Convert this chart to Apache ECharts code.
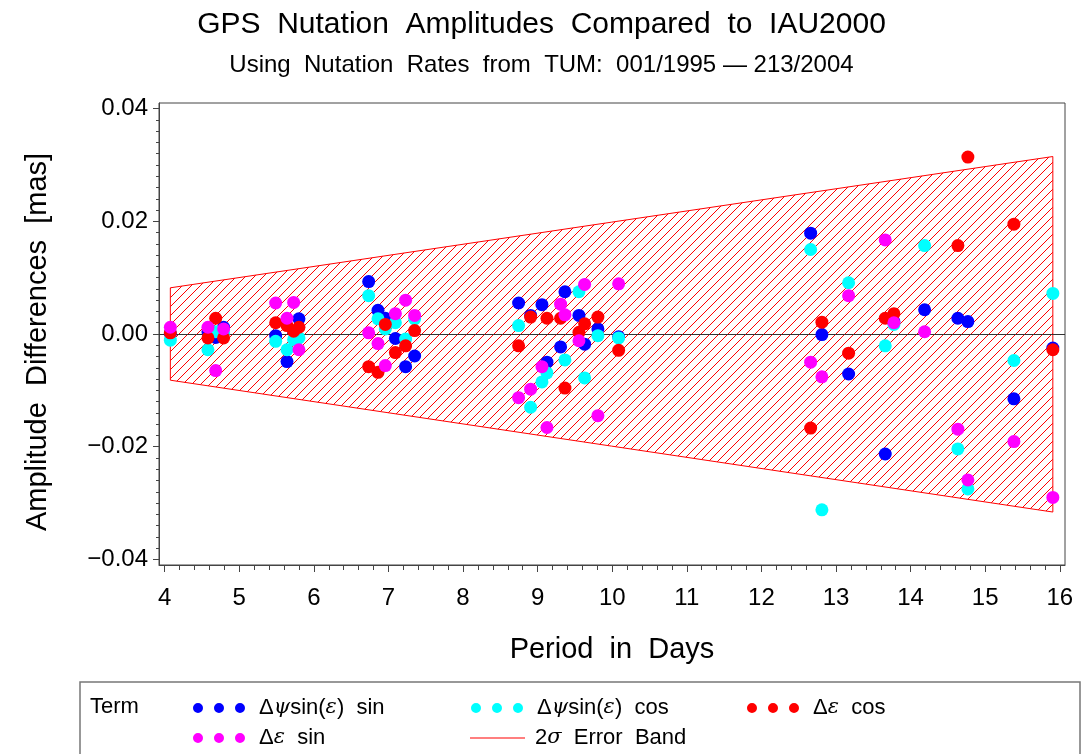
<!DOCTYPE html>
<html>
<head>
<meta charset="utf-8">
<script src="https://cdn.jsdelivr.net/npm/echarts@6/dist/echarts.min.js"></script>
<style>html,body{margin:0;padding:0;background:#fff;}#c{width:1083px;height:754px;}</style>
</head>
<body>
<div id="c"></div>
<script>
// ---- data (period in days, amplitude difference in mas) ----
const dpsiSin = [[4.076,0.0001],[4.58,0.0004],[4.684,-0.0006],[4.79,0.0012],[5.488,-0.0003],[5.64,-0.0049],[5.729,0.0005],[5.80,0.0027],
  [6.735,0.0093],[6.86,0.0042],[6.958,0.0028],[7.093,-0.0008],[7.23,-0.0058],[7.351,-0.0039],
  [8.745,0.0055],[8.906,0.0033],[9.058,0.0052],[9.125,-0.0050],[9.308,-0.0023],[9.366,0.0075],[9.554,0.0033],[9.63,-0.0018],[9.808,0.0009],[10.086,-0.0005],
  [12.66,0.0179],[12.811,-0.0001],[13.169,-0.0071],[13.66,-0.0213],[13.776,0.0022],[14.188,0.0043],[14.634,0.0028],[14.768,0.0022],[15.385,-0.0115],[15.907,-0.0025]];
const dpsiCos = [[4.076,-0.0011],[4.58,-0.0028],[4.684,0.0004],[4.79,0.0002],[5.488,-0.0013],[5.64,-0.0028],[5.729,-0.0010],[5.80,-0.0007],
  [6.735,0.0068],[6.86,0.0027],[6.958,0.0009],[7.093,0.0020],[7.23,-0.0009],[7.351,0.0027],
  [8.745,0.0015],[8.906,-0.0130],[9.058,-0.0085],[9.125,-0.0069],[9.366,-0.0046],[9.554,0.0075],[9.63,-0.0078],[9.808,-0.0003],[10.086,-0.0007],
  [12.66,0.0150],[12.811,-0.0312],[13.169,0.0091],[13.66,-0.0021],[13.776,0.0017],[14.188,0.0157],[14.634,-0.0204],[14.768,-0.0275],[15.385,-0.0047],[15.907,0.0072]];
const depsCos = [[4.076,0.0002],[4.58,-0.0007],[4.684,0.0028],[4.79,-0.0007],[5.488,0.0020],[5.64,0.0015],[5.729,0.0005],[5.80,0.0012],
  [6.735,-0.0058],[6.86,-0.0068],[6.958,0.0017],[7.093,-0.0033],[7.23,-0.0021],[7.351,0.0006],
  [8.745,-0.0021],[8.906,0.0030],[9.125,0.0028],[9.308,0.0028],[9.366,-0.0096],[9.554,0.0003],[9.63,0.0018],[9.808,0.0030],[10.086,-0.0029],
  [12.66,-0.0167],[12.811,0.0021],[13.169,-0.0034],[13.66,0.0028],[13.776,0.0036],[14.634,0.0157],[14.768,0.0314],[15.385,0.0195],[15.907,-0.0028]];
const depsSin = [[4.076,0.0012],[4.58,0.0012],[4.684,-0.0065],[4.79,0.0009],[5.488,0.0055],[5.64,0.0028],[5.729,0.0056],[5.80,-0.0028],
  [6.735,0.0002],[6.86,-0.0017],[6.958,-0.0056],[7.093,0.0036],[7.23,0.0060],[7.351,0.0033],
  [8.745,-0.0113],[8.906,-0.0098],[9.058,-0.0058],[9.125,-0.0166],[9.308,0.0053],[9.366,0.0034],[9.554,-0.0012],[9.63,0.0088],[9.808,-0.0145],[10.086,0.0089],
  [12.66,-0.0050],[12.811,-0.0076],[13.169,0.0068],[13.66,0.0167],[13.776,0.0020],[14.188,0.0004],[14.634,-0.0169],[14.768,-0.0259],[15.385,-0.0191],[15.907,-0.0290]];
// 2-sigma error band: period, upper, lower
const bandPeriods = [4.076, 15.907];
const bandUpper = [0.0082, 0.0315];
const bandLower = [-0.0082, -0.0316];
// tick labels
const xTicks = [4,5,6,7,8,9,10,11,12,13,14,15,16];
const yTicks = [-0.04,-0.02,0,0.02,0.04];

const xMinor = [];
for (let i = 0; i < xTicks.length - 1; i++) for (let k = 1; k < 5; k++) xMinor.push(xTicks[i] + k * 0.2);
const yMinor = [];
for (let i = 0; i < yTicks.length - 1; i++) for (let k = 1; k < 10; k++) yMinor.push(+(yTicks[i] + k * 0.002).toFixed(4));

const FONT = 'Liberation Sans';
const pat = document.createElement('canvas');
pat.width = 9; pat.height = 9;
(function(){
  const g = pat.getContext('2d');
  g.strokeStyle = '#ff0000'; g.lineWidth = 1;
  g.beginPath();
  g.moveTo(0,9); g.lineTo(9,0);
  g.moveTo(-1,1); g.lineTo(1,-1);
  g.moveTo(8,10); g.lineTo(10,8);
  g.stroke();
})();

const chart = echarts.init(document.getElementById('c'), null, {renderer:'canvas'});
const dots = 'path://M0,5A5,5,0,1,1,10,5A5,5,0,1,1,0,5ZM21,5A5,5,0,1,1,31,5A5,5,0,1,1,21,5ZM42,5A5,5,0,1,1,52,5A5,5,0,1,1,42,5Z';
const names = ['Δψsin(ε) sin','Δψsin(ε) cos','Δε cos','Δε sin','2σ Error Band'];
const rich = {
  it: {fontStyle:'italic', fontFamily:'DejaVu Serif', fontSize:21, color:'#000'},
  n: {fontFamily:FONT, fontSize:22, color:'#000'}
};
const labelFmt = {
  'Δψsin(ε) sin': '{n|Δ}{it|ψ}{n|sin(}{it|ε}{n|)  sin}',
  'Δψsin(ε) cos': '{n|Δ}{it|ψ}{n|sin(}{it|ε}{n|)  cos}',
  'Δε cos': '{n|Δ}{it|ε}{n|  cos}',
  'Δε sin': '{n|Δ}{it|ε}{n|  sin}',
  '2σ Error Band': '{n|2}{it|σ}{n|  Error  Band}'
};
function leg(name, color, left, top, icon, w, h, gapPad) {
  return {
    data:[{name:name, itemStyle:{color:color}}], left:left, top:top, orient:'horizontal', icon:icon, itemWidth:w, itemHeight:h,
    selectedMode:false, padding:0,
    formatter: n => labelFmt[n],
    textStyle:{fontFamily:FONT, fontSize:22, color:'#000', rich:rich, padding:[0,0,0,gapPad]}
  };
}

const scatterBase = {type:'scatter', symbol:'circle', symbolSize:13, z:10, xAxisIndex:0, yAxisIndex:0, emphasis:{disabled:true}};

chart.setOption({
  animation:false,
  backgroundColor:'#fff',
  title:[
    {text:'GPS  Nutation  Amplitudes  Compared  to  IAU2000', left:'center', top:5,
     textStyle:{fontFamily:FONT, fontSize:30, fontWeight:'normal', color:'#000'}},
    {text:'Using  Nutation  Rates  from  TUM:  001/1995 \u2014 213/2004', left:'center', top:48,
     textStyle:{fontFamily:FONT, fontSize:24, fontWeight:'normal', color:'#000'}}
  ],
  grid:{left:159, right:18, top:103, bottom:189, show:true, borderColor:'#444', borderWidth:1, backgroundColor:'transparent'},
  xAxis:[
    {type:'value', min:3.924, max:16.07, position:'bottom', splitLine:{show:false},
     axisLine:{show:true, onZero:false, lineStyle:{color:'#444'}},
     axisTick:{show:true, inside:false, length:7, customValues:xTicks, lineStyle:{color:'#444'}},
     axisLabel:{customValues:xTicks, margin:21, fontFamily:FONT, fontSize:24, color:'#000'},
     name:'Period  in  Days', nameLocation:'middle', nameGap:70,
     nameTextStyle:{fontFamily:FONT, fontSize:29, color:'#000'}},
    {type:'value', min:3.924, max:16.07, position:'bottom', splitLine:{show:false},
     axisLine:{show:false, onZero:false},
     axisTick:{show:true, inside:false, length:5, customValues:xMinor, lineStyle:{color:'#444'}},
     axisLabel:{show:false}}
  ],
  yAxis:[
    {type:'value', min:-0.041, max:0.041, position:'left', splitLine:{show:false},
     axisLine:{show:true, onZero:false, lineStyle:{color:'#444'}},
     axisTick:{show:true, inside:false, length:6, customValues:yTicks, lineStyle:{color:'#444'}},
     axisLabel:{customValues:yTicks, margin:11, fontFamily:FONT, fontSize:24, color:'#000',
       formatter: v => (v < -1e-9 ? '\u2212' : '') + Math.abs(v).toFixed(2)},
     name:'Amplitude  Differences  [mas]', nameLocation:'middle', nameGap:107, nameRotate:90,
     nameTextStyle:{fontFamily:FONT, fontSize:29, color:'#000', padding:[0,16,0,0]}},
    {type:'value', min:-0.041, max:0.041, position:'left', splitLine:{show:false},
     axisLine:{show:false, onZero:false},
     axisTick:{show:true, inside:false, length:3, customValues:yMinor, lineStyle:{color:'#444'}},
     axisLabel:{show:false}}
  ],
  legend:[
    leg(names[0], '#0000ff', 193, 697, dots, 52, 10, 9),
    leg(names[1], '#00ffff', 471, 697, dots, 52, 10, 9),
    leg(names[2], '#ff0000', 747, 697, dots, 52, 10, 9),
    leg(names[3], '#ff00ff', 193, 727, dots, 52, 10, 9),
    leg(names[4], '#ff0000', 470, 727, 'rect', 55, 1.2, 5)
  ],
  graphic:[
    {type:'rect', shape:{x:80, y:682, width:1000, height:100}, style:{fill:'none', stroke:'#777', lineWidth:1.5}, silent:true},
    {type:'text', left:90, top:696, style:{text:'Term', font:'22px "Liberation Sans"', fill:'#000'}, silent:true}
  ],
  series:[
    {type:'custom', name:names[4], xAxisIndex:0, yAxisIndex:0, z:1, clip:true,
     itemStyle:{color:'#ff0000'},
     data: bandPeriods.map((p,i) => [p, bandUpper[i], bandLower[i]]),
     renderItem: function(params, api) {
       if (params.dataIndex !== 0) return null;
       const up = [], lo = [];
       for (let i = 0; i < bandPeriods.length; i++) {
         up.push(api.coord([bandPeriods[i], bandUpper[i]]));
         lo.unshift(api.coord([bandPeriods[i], bandLower[i]]));
       }
       return {type:'polygon', shape:{points: up.concat(lo)},
               style:{fill:{image:pat, repeat:'repeat'}, stroke:'#ff0000', lineWidth:1}};
     },
     markLine:{silent:true, symbol:'none', z:2, label:{show:false},
       lineStyle:{color:'#333', width:1, type:'solid'}, data:[{yAxis:0}]}
    },
    Object.assign({name:names[0], data:dpsiSin, itemStyle:{color:'#0000ff', opacity:1}}, scatterBase),
    Object.assign({name:names[1], data:dpsiCos, itemStyle:{color:'#00ffff', opacity:1}}, scatterBase),
    Object.assign({name:names[2], data:depsCos, itemStyle:{color:'#ff0000', opacity:1}}, scatterBase),
    Object.assign({name:names[3], data:depsSin, itemStyle:{color:'#ff00ff', opacity:1}}, scatterBase)
  ]
});
</script>
</body>
</html>
